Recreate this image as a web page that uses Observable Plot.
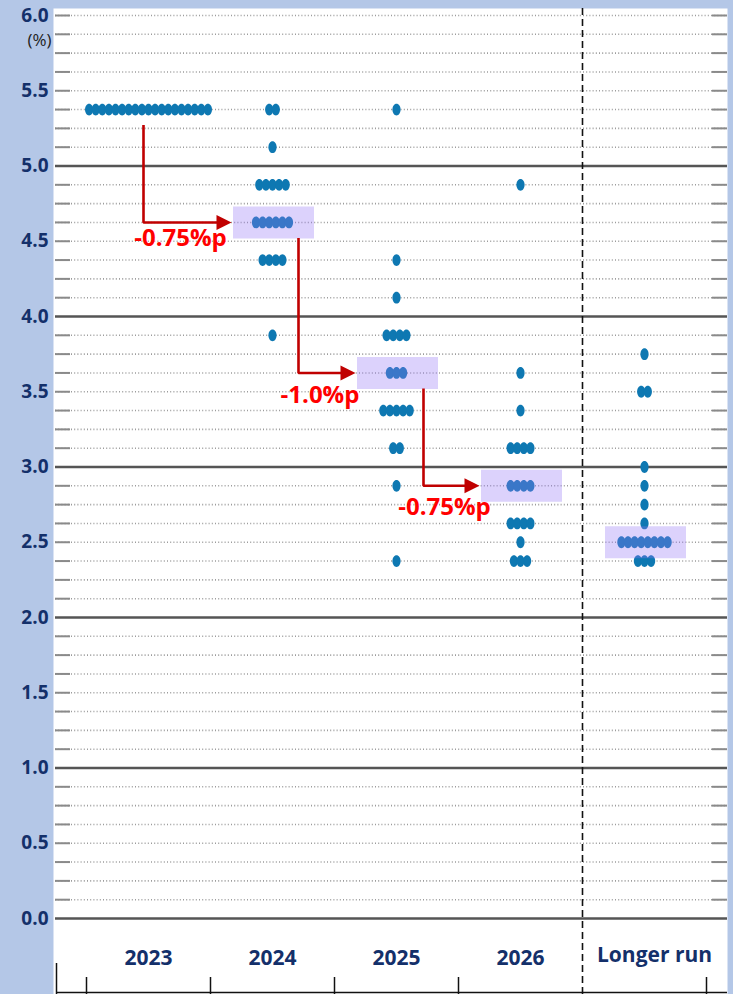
<!DOCTYPE html>
<html><head><meta charset="utf-8">
<script src="https://cdn.jsdelivr.net/npm/d3@7"></script>
<script src="https://cdn.jsdelivr.net/npm/@observablehq/plot@0.6"></script>
<style>
html,body{margin:0;padding:0;background:#b4c7e7;}
#chart svg{display:block;}
</style></head><body><div id="chart"></div>
<script>
// ---- data ----
const categories = ["2023", "2024", "2025", "2026", "Longer run"];
// [rate, number of participants]
const dots2023 = [[5.375, 19]];
const dots2024 = [[5.375, 2], [5.125, 1], [4.875, 5], [4.625, 6], [4.375, 4], [3.875, 1]];
const dots2025 = [[5.375, 1], [4.375, 1], [4.125, 1], [3.875, 4], [3.625, 3], [3.375, 5], [3.125, 2], [2.875, 1], [2.375, 1]];
const dots2026 = [[4.875, 1], [3.625, 1], [3.375, 1], [3.125, 4], [2.875, 4], [2.625, 4], [2.5, 1], [2.375, 3]];
const dotsLonger = [[3.75, 1], [3.5, 2], [3.0, 1], [2.875, 1], [2.75, 1], [2.625, 1], [2.5, 8], [2.375, 3]];
const medians = [5.375, 4.625, 3.625, 2.875, 2.5];
const highlighted = ["2024", "2025", "2026", "Longer run"];
const changeLabels = ["-0.75%p", "-1.0%p", "-0.75%p"];
const yTicks = [0.0, 0.5, 1.0, 1.5, 2.0, 2.5, 3.0, 3.5, 4.0, 4.5, 5.0, 5.5, 6.0];
const majorLines = [0, 1, 2, 3, 4, 5];

// ---- layout (pixels) ----
const W = 733, H = 994;
const pxX = 124, c0 = 148;          // px per column, centre of first column
const pxY = 150.5;                  // px per 1 percentage point
const xDomain = [(53 - c0) / pxX, (727 - c0) / pxX];
const yDomain = [-(994 - 918) / pxY, 6 + (15 - 8) / pxY];
const ux = px => px / pxX, uy = px => px / pxY;

const allDots = [dots2023, dots2024, dots2025, dots2026, dotsLonger];
const dotTable = [];
allDots.forEach((rows, i) => rows.forEach(([rate, n]) => {
  for (let k = 0; k < n; k++) dotTable.push({col: i, rate, off: k - (n - 1) / 2});
}));
const boxes = highlighted.map(c => ({col: categories.indexOf(c), rate: medians[categories.indexOf(c)]}));

const stemOffPx = [-5, 26, 27], tipOffPx = -41, headLen = 15;
const labelDyPx = [16, 22, 21];
const arrows = changeLabels.map((label, i) => ({
  i, label, from: i, to: i + 1, fromVal: medians[i], toVal: medians[i + 1],
  stemX: i + ux(stemOffPx[i]), tipX: i + 1 + ux(tipOffPx)
}));
const arrowPath = arrows.flatMap(a => [
  {z: a.i, x: a.stemX, y: a.fromVal - uy(15.5)},
  {z: a.i, x: a.stemX, y: a.toVal},
  {z: a.i, x: a.tipX - ux(headLen - 1), y: a.toVal}
]);

const minorLines = d3.range(0, 6.001, 0.125).filter(v => !majorLines.includes(v));
const boundaries = [-0.5, 0.5, 1.5, 2.5, 4.5];
const axisStart = ux(56 - c0);

// ---- custom symbols ----
const K = 0.5523;
const ellipse = {draw(ctx) {
  const rx = 4.1, ry = 5.9;
  ctx.moveTo(rx, 0);
  ctx.bezierCurveTo(rx, ry * K, rx * K, ry, 0, ry);
  ctx.bezierCurveTo(-rx * K, ry, -rx, ry * K, -rx, 0);
  ctx.bezierCurveTo(-rx, -ry * K, -rx * K, -ry, 0, -ry);
  ctx.bezierCurveTo(rx * K, -ry, rx, -ry * K, rx, 0);
  ctx.closePath();
}};
const boxSym = {draw(ctx) { ctx.rect(-40.5, -16, 81, 32); }};
const headSym = {draw(ctx) { ctx.moveTo(0, 0); ctx.lineTo(-headLen, -7.5); ctx.lineTo(-headLen, 7.5); ctx.closePath(); }};

const font = "'Open Sans', 'DejaVu Sans', sans-serif";
const navy = "#14306a";
const years = categories.slice(0, 4), lastCat = categories.slice(4);

const chart = Plot.plot({
  width: W, height: H,
  marginLeft: 53, marginRight: W - 727, marginTop: 8, marginBottom: 0,
  style: {fontFamily: font, background: "transparent", overflow: "visible"},
  x: {type: "linear", domain: xDomain, axis: null},
  y: {type: "linear", domain: yDomain, axis: null},
  marks: [
    Plot.frame({fill: "white", stroke: null}),
    // minor dotted grid
    Plot.ruleY(minorLines, {stroke: "#9c9c9c", strokeWidth: 1.6, strokeDasharray: "1,2.2", insetLeft: 2}),
    Plot.ruleY(minorLines, {stroke: "#8a8a8a", strokeWidth: 2, insetLeft: 2, insetRight: 727 - 70}),
    Plot.ruleY(minorLines, {stroke: "#8a8a8a", strokeWidth: 2, insetLeft: 712 - 53}),
    // major solid grid
    Plot.ruleY(majorLines, {stroke: "#555", strokeWidth: 2.4, insetLeft: 2}),
    // divider before "Longer run"
    Plot.ruleX([3.5], {stroke: "#111", strokeWidth: 1.6, strokeDasharray: "7,4"}),
    // bottom axis
    Plot.ruleY([yDomain[0]], {x1: axisStart, x2: xDomain[1], stroke: "#111", strokeWidth: 1.5, dy: -2}),
    Plot.ruleX([axisStart], {stroke: "#111", strokeWidth: 1.5, insetTop: 963 - 8}),
    Plot.ruleX(boundaries, {stroke: "#111", strokeWidth: 1.5, insetTop: 977 - 8}),
    // dots
    Plot.dot(dotTable, {x: d => d.col + d.off * ux(6.6), y: "rate", symbol: ellipse, fill: "#0e78b2", stroke: null}),
    // median highlight boxes
    Plot.dot(boxes, {x: "col", y: "rate", dx: 1, symbol: boxSym, fill: "#9476f6", fillOpacity: 0.33, stroke: null}),
    // arrows
    Plot.line(arrowPath, {x: "x", y: "y", z: "z", stroke: "#c00000", strokeWidth: 2.6, strokeLinejoin: "miter", strokeLinecap: "butt"}),
    Plot.dot(arrows, {x: "tipX", y: "toVal", symbol: headSym, fill: "#c00000", stroke: null}),
    Plot.text(arrows, {x: a => (a.stemX + a.tipX) / 2 - ux(7), y: a => a.toVal - uy(labelDyPx[a.i]), text: "label",
      fill: "#ff0000", fontSize: 24, fontWeight: "bold", fontFamily: font}),
    // y axis
    Plot.axisY({ticks: yTicks, tickFormat: d3.format(".1f"), tickSize: 0, tickPadding: 5, label: null,
      fontSize: 19, fontWeight: "bold", fill: navy, fontFamily: font}),
    Plot.text(["(%)"], {text: d => d, frameAnchor: "top-left", lineAnchor: "middle", dx: -2, dy: 32, textAnchor: "end",
      fontSize: 17, fill: "#222", fontFamily: font}),
    // category labels
    Plot.text(years, {x: d => categories.indexOf(d), frameAnchor: "bottom", lineAnchor: "middle", dy: -36, text: d => d,
      fontSize: 21, fontWeight: "bold", fill: navy, fontFamily: font}),
    Plot.text(lastCat, {x: d => categories.indexOf(d), frameAnchor: "bottom", lineAnchor: "middle", dx: 10, dy: -39, text: d => d,
      fontSize: 21, fontWeight: "bold", fill: navy, fontFamily: font})
  ]
});
document.getElementById("chart").appendChild(chart);
</script>
</body></html>
